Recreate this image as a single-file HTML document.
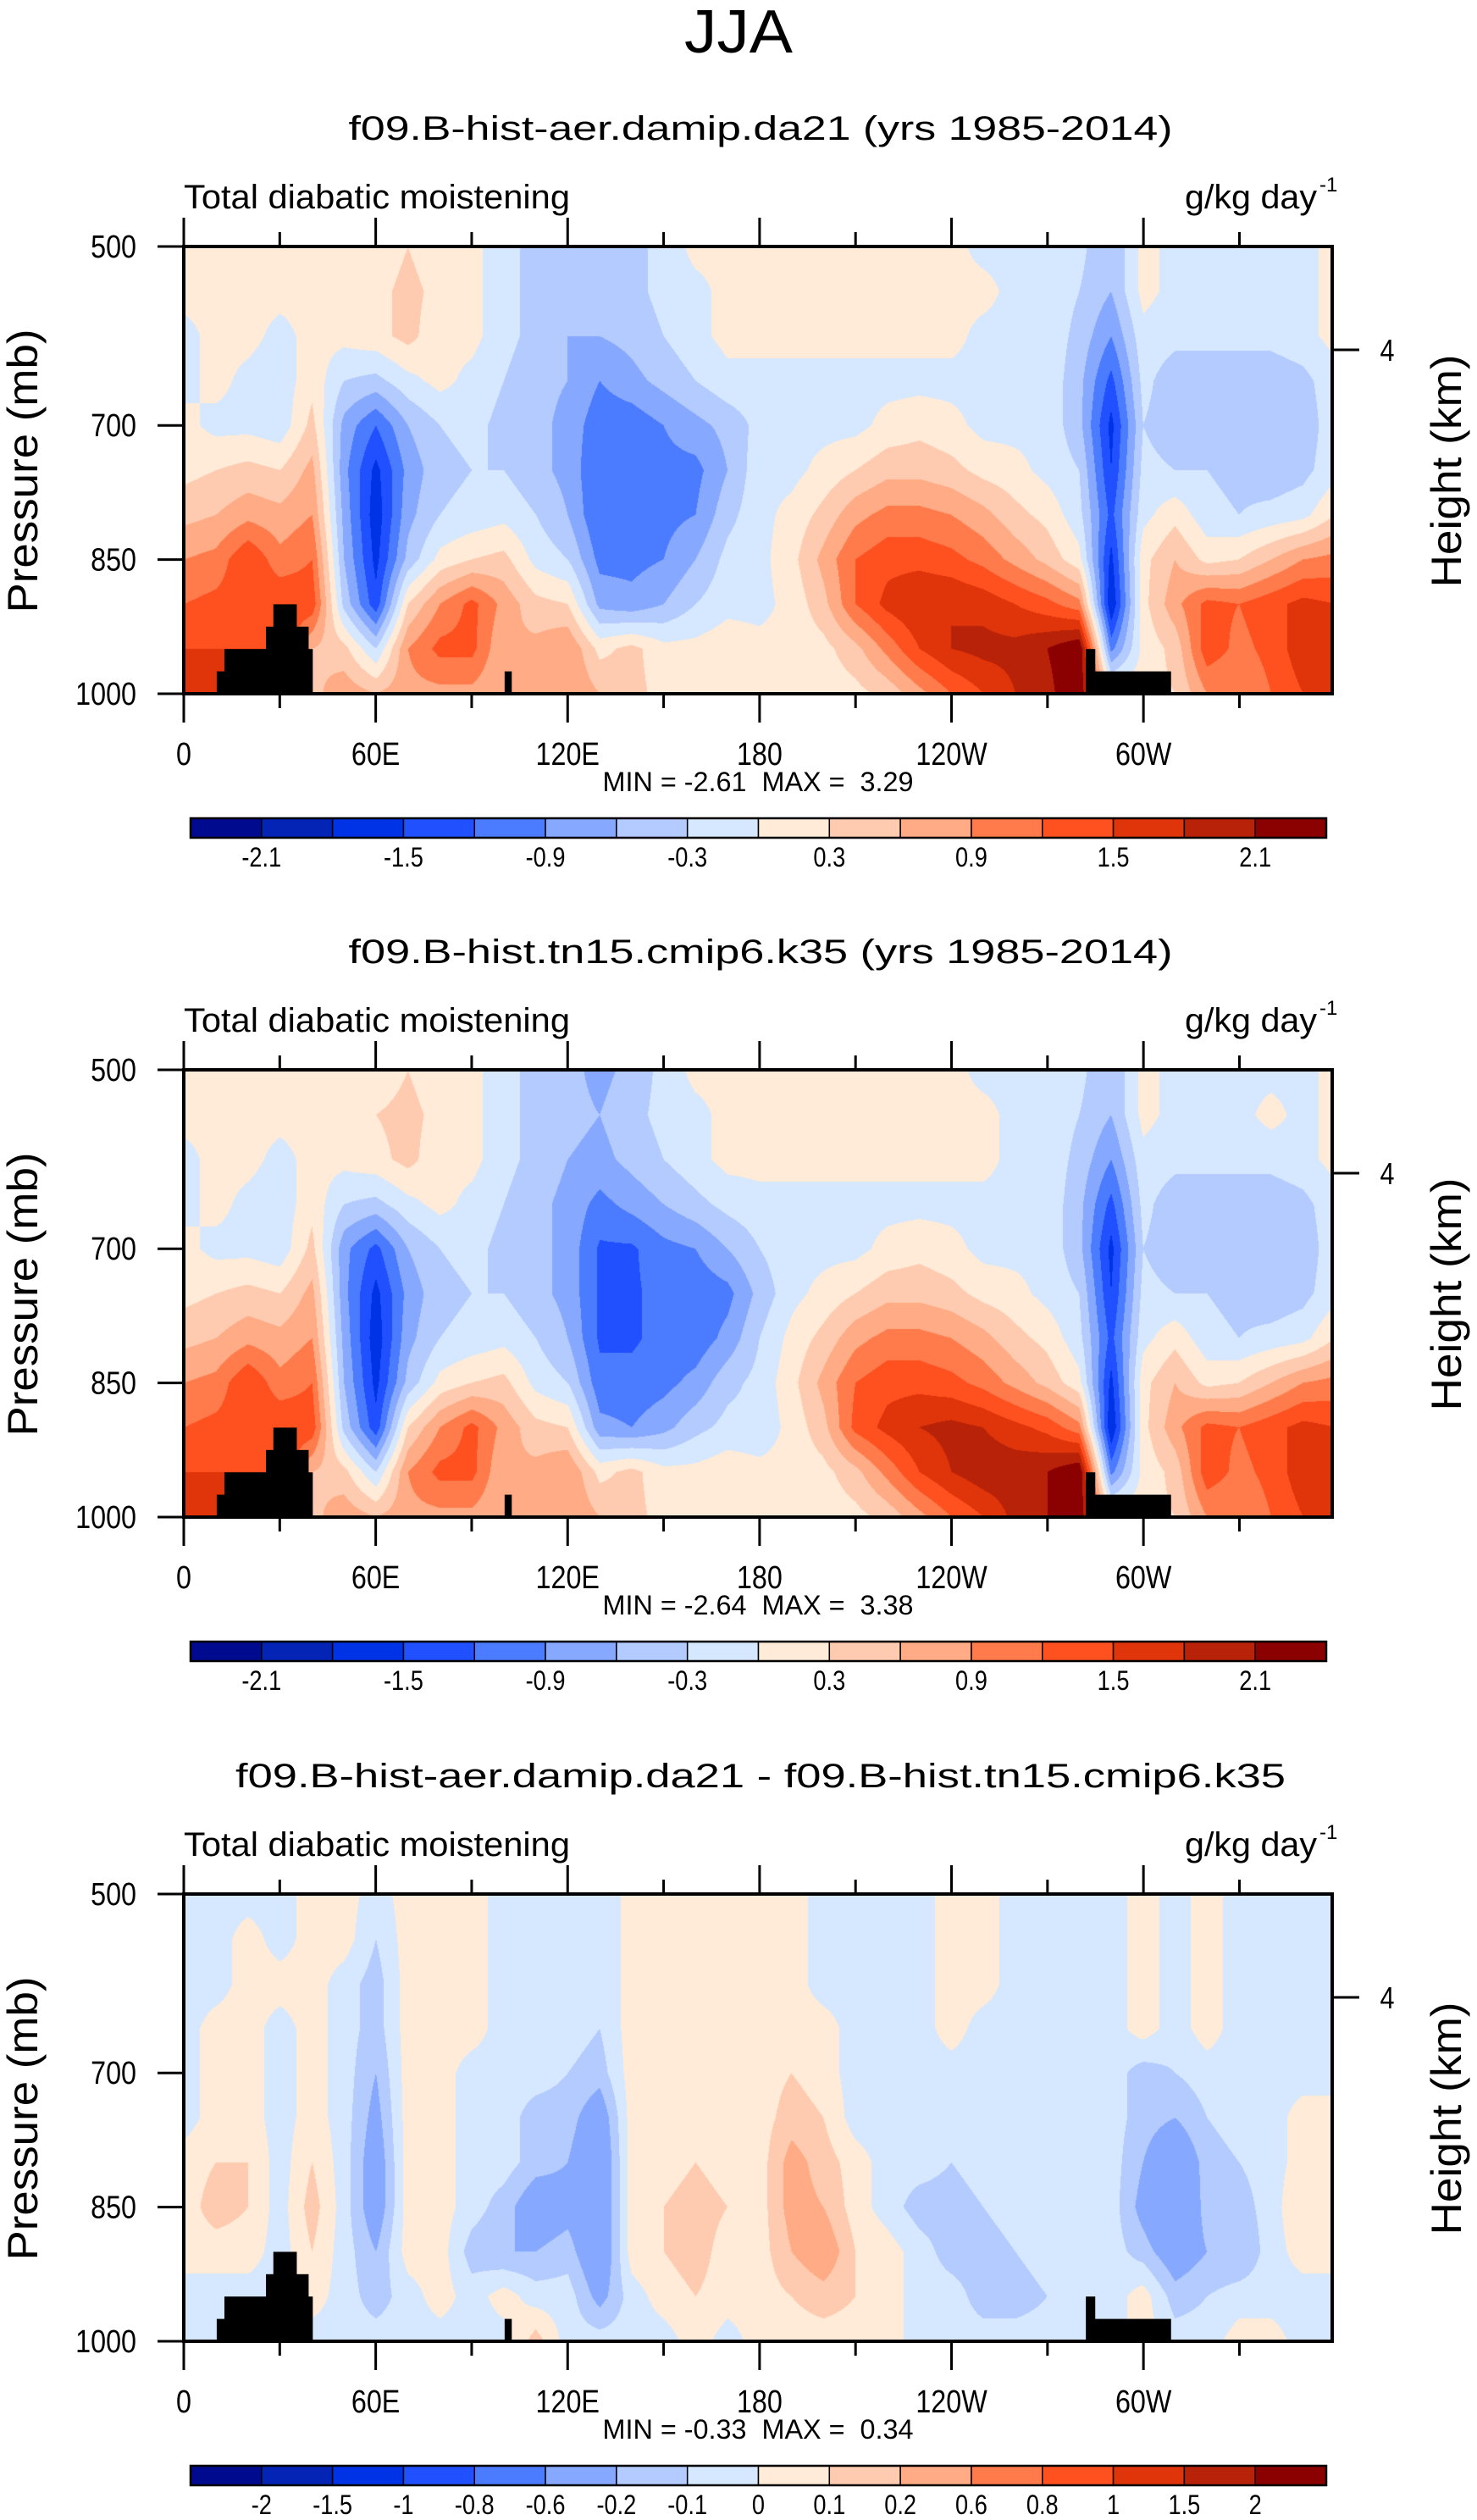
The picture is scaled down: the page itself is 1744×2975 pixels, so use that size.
<!DOCTYPE html>
<html><head><meta charset="utf-8">
<style>
html,body{margin:0;padding:0;background:#fff;}
#root{position:relative;width:1744px;height:2975px;overflow:hidden;background:#fff;}
canvas{position:absolute;}
svg{position:absolute;left:0;top:0;}
text{font-family:"Liberation Sans",sans-serif;fill:#000;}
</style></head>
<body>
<div id="root">
<canvas id="c0" width="1356" height="528" style="left:217px;top:291px"></canvas>
<canvas id="c1" width="1356" height="528" style="left:217px;top:1263px"></canvas>
<canvas id="c2" width="1356" height="528" style="left:217px;top:2236px"></canvas>
<svg id="ov" width="1744" height="2975"></svg>
</div>
<script>
// ---------- data ----------
const lons = [0,10,20,30,40,50,60,70,80,90,100,110,120,130,140,150,160,170,180,190,200,210,220,230,240,250,260,270,280,290,300,310,320,330,340,350,360];
const levels = [500,550,600,650,700,750,800,850,900,950,1000];
const xTickLabels = ["0","60E","120E","180","120W","60W"];
const xTickLons = [0,60,120,180,240,300];
const yTickLabels = ["500","700","850","1000"];
const yTickValues = [500,700,850,1000];
const titles = ["f09.B-hist-aer.damip.da21 (yrs 1985-2014)","f09.B-hist.tn15.cmip6.k35 (yrs 1985-2014)","f09.B-hist-aer.damip.da21 - f09.B-hist.tn15.cmip6.k35"];
const minMax = ["MIN = -2.61\u00a0\u00a0MAX =\u00a0\u00a03.29","MIN = -2.64\u00a0\u00a0MAX =\u00a0\u00a03.38","MIN = -0.33\u00a0\u00a0MAX =\u00a0\u00a00.34"];
const boundsAbs = [-2.1,-1.8,-1.5,-1.2,-0.9,-0.6,-0.3,0,0.3,0.6,0.9,1.2,1.5,1.8,2.1];
const boundsAbsLabels = ["-2.1","","-1.5","","-0.9","","-0.3","","0.3","","0.9","","1.5","","2.1"];
const boundsDiff = [-2,-1.5,-1,-0.8,-0.6,-0.2,-0.1,0,0.1,0.2,0.6,0.8,1,1.5,2];
const boundsDiffLabels = ["-2","-1.5","-1","-0.8","-0.6","-0.2","-0.1","0","0.1","0.2","0.6","0.8","1","1.5","2"];
const palette = ["#000a8f","#0324b5","#0033e6","#2050ff","#4b7bff","#86a8ff","#b4cbff","#d6e8ff","#ffebd8","#ffcbb0","#ffab85","#ff7b4b","#ff5020","#e0340a","#b82208","#8b0000"];
// topography blocks: [lon start, lon end, pressure top]
const topoLon0 = [10.3,12.7,25.7,28,35.2,38.9,100.3,282,284.8];
const topoLon1 = [12.7,25.7,28,35.2,38.9,40.2,102.4,284.8,308.5];
const topoPtop = [975,950,925,900,925,950,975,950,975];

const field1 = [
[0.1,0.1,0.1,0.1,0.1,0.1,0.1,0.3,0.1,0.1,-0.2,-0.4,-0.5,-0.6,-0.4,-0.2,0.1,0.1,0.1,0.1,0.1,0.1,0.1,0.1,0.1,-0.1,-0.1,-0.1,-0.2,-0.6,0.1,-0.1,-0.1,-0.1,-0.1,-0.1,0.1],
[0.1,0.1,0.1,0.1,0.1,0.1,0.2,0.4,0.2,0.1,-0.2,-0.4,-0.5,-0.5,-0.4,-0.2,-0.1,0.1,0.1,0.1,0.1,0.1,0.1,0.1,0.1,0.1,-0.1,-0.1,-0.3,-0.6,0.1,-0.1,-0.1,-0.1,-0.1,-0.1,0.1],
[-0.1,0.1,0.1,-0.1,0.1,0.1,0.2,0.4,0.1,0.1,-0.2,-0.4,-0.6,-0.6,-0.5,-0.3,-0.1,0.1,0.1,0.1,0.1,0.1,0.1,0.1,0.1,-0.1,-0.1,-0.1,-0.4,-0.9,-0.1,-0.2,-0.2,-0.2,-0.2,-0.1,0.1],
[-0.1,0.1,-0.1,-0.2,0.2,-0.3,-0.4,-0.1,0.1,-0.1,-0.3,-0.5,-0.6,-0.9,-0.7,-0.5,-0.3,-0.1,-0.1,-0.1,-0.1,-0.1,-0.1,-0.1,-0.1,-0.1,-0.1,-0.1,-0.5,-1.3,-0.2,-0.5,-0.5,-0.5,-0.5,-0.4,-0.1],
[0.1,-0.1,-0.1,-0.2,0.4,-0.7,-1.2,-0.6,-0.3,-0.2,-0.4,-0.5,-0.7,-1.1,-1.1,-0.9,-0.7,-0.5,-0.2,-0.1,-0.1,-0.1,0.1,0.2,0.1,-0.1,-0.1,-0.1,-0.5,-1.6,-0.3,-0.5,-0.5,-0.5,-0.5,-0.5,-0.1],
[0.2,0.3,0.4,0.3,0.7,-0.8,-1.6,-0.8,-0.4,-0.3,-0.3,-0.5,-0.7,-1.2,-1.1,-1.0,-1.0,-0.6,-0.1,-0.1,0.1,0.3,0.5,0.5,0.4,0.2,0.1,-0.1,-0.3,-1.5,-0.2,-0.3,-0.3,-0.4,-0.5,-0.4,-0.1],
[0.5,0.6,0.8,0.7,0.9,-0.7,-1.7,-0.7,-0.3,-0.2,-0.1,-0.3,-0.6,-1.2,-1.1,-1.0,-0.9,-0.4,-0.1,0.1,0.4,0.8,1.0,1.0,0.9,0.7,0.4,0.2,-0.2,-1.3,-0.1,0.2,-0.2,-0.3,-0.2,-0.1,0.3],
[0.9,1.0,1.5,1.0,1.2,-0.6,-1.6,-0.5,0.1,0.3,0.4,-0.1,-0.3,-1.0,-1.0,-0.9,-0.6,-0.2,-0.1,0.2,0.7,1.2,1.4,1.4,1.3,1.1,0.8,0.5,0.1,-1.6,0.2,0.6,0.2,0.3,0.6,0.9,1.0],
[1.2,1.3,1.4,1.5,1.4,-0.4,-1.4,0.3,0.9,1.3,0.8,0.4,0.3,-0.7,-0.8,-0.6,-0.3,-0.1,-0.1,0.1,0.5,1.2,1.6,1.8,1.8,1.7,1.5,1.3,1.0,-1.8,0.2,0.8,1.3,1.2,1.4,1.6,1.5],
[1.5,1.5,1.5,1.5,0.6,0.4,-0.3,0.9,1.3,1.3,0.6,0.7,0.9,0.2,0.4,0.1,0.1,0.2,0.1,0.1,0.2,0.5,1.0,1.5,1.8,1.9,1.9,2.1,2.4,-1.0,0.1,0.4,1.4,1.1,1.3,1.7,1.6],
[1.6,1.6,1.6,1.6,0.5,0.8,0.6,0.8,0.8,0.8,0.6,0.8,0.9,0.6,0.4,0.2,0.2,0.2,0.1,0.1,0.1,0.2,0.4,0.8,1.2,1.5,1.8,2.0,2.4,0.3,0.2,0.3,0.9,0.9,1.2,1.5,1.6]
];
const field2 = [
[0.1,0.1,0.1,0.1,0.1,0.1,0.1,0.3,0.1,0.1,-0.2,-0.4,-0.5,-0.7,-0.5,-0.2,0.1,0.1,0.1,0.1,0.1,0.1,0.1,0.1,0.1,-0.1,-0.1,-0.1,-0.2,-0.6,0.1,-0.1,-0.1,-0.1,-0.1,-0.1,0.1],
[0.1,0.1,0.1,0.1,0.1,0.1,0.3,0.4,0.2,0.1,-0.2,-0.4,-0.5,-0.6,-0.4,-0.2,-0.1,0.1,0.1,0.1,0.1,0.1,0.1,0.1,0.1,0.1,-0.1,-0.1,-0.3,-0.6,0.1,-0.1,-0.1,-0.1,0.1,-0.1,0.1],
[-0.1,0.1,0.1,-0.1,0.1,0.1,0.2,0.4,0.1,0.1,-0.2,-0.4,-0.6,-0.7,-0.5,-0.3,-0.1,0.1,0.1,0.1,0.1,0.1,0.1,0.1,0.1,0.1,-0.1,-0.1,-0.4,-0.9,-0.1,-0.2,-0.2,-0.2,-0.2,-0.1,0.1],
[-0.1,0.1,-0.1,-0.2,0.2,-0.3,-0.4,-0.1,0.1,-0.1,-0.3,-0.5,-0.7,-1.0,-0.8,-0.6,-0.4,-0.2,-0.1,-0.1,-0.1,-0.1,-0.1,-0.1,-0.1,-0.1,-0.1,-0.1,-0.5,-1.3,-0.2,-0.5,-0.5,-0.5,-0.5,-0.4,-0.1],
[0.1,-0.1,-0.1,-0.2,0.4,-0.8,-1.3,-0.6,-0.3,-0.2,-0.4,-0.5,-0.7,-1.25,-1.25,-1.0,-0.9,-0.6,-0.3,-0.1,-0.1,-0.1,0.1,0.2,0.1,-0.1,-0.1,-0.1,-0.5,-1.6,-0.3,-0.5,-0.5,-0.5,-0.5,-0.5,-0.1],
[0.2,0.3,0.4,0.3,0.7,-0.8,-1.6,-0.8,-0.4,-0.3,-0.3,-0.5,-0.7,-1.25,-1.25,-1.1,-1.1,-1.0,-0.5,-0.1,0.1,0.3,0.5,0.5,0.4,0.2,0.1,-0.1,-0.3,-1.5,-0.2,-0.3,-0.3,-0.4,-0.5,-0.4,-0.1],
[0.5,0.6,0.8,0.7,0.9,-0.7,-1.7,-0.7,-0.3,-0.2,-0.1,-0.3,-0.6,-1.25,-1.25,-1.1,-1.1,-0.8,-0.3,0.1,0.4,0.8,1.0,1.0,0.9,0.7,0.4,0.2,-0.2,-1.3,-0.1,0.2,-0.2,-0.3,-0.2,-0.1,0.3],
[0.9,1.0,1.5,1.0,1.2,-0.6,-1.6,-0.5,0.1,0.3,0.4,-0.1,-0.3,-1.1,-1.1,-1.0,-0.8,-0.4,-0.2,0.2,0.7,1.2,1.4,1.4,1.3,1.1,0.8,0.5,0.1,-1.6,0.2,0.6,0.2,0.3,0.6,0.9,1.0],
[1.2,1.3,1.4,1.5,1.4,-0.4,-1.4,0.3,0.9,1.3,0.8,0.4,0.3,-0.8,-0.9,-0.7,-0.4,-0.2,-0.2,0.1,0.5,1.3,1.6,1.8,1.9,1.8,1.6,1.4,1.0,-1.8,0.2,0.8,1.3,1.2,1.4,1.6,1.5],
[1.5,1.5,1.5,1.5,0.6,0.4,-0.3,0.9,1.3,1.3,0.6,0.7,0.9,0.2,0.4,0.1,0.1,0.2,0.1,0.1,0.2,0.5,1.0,1.5,1.8,2.0,2.0,2.1,2.4,-1.0,0.1,0.4,1.4,1.1,1.3,1.7,1.6],
[1.6,1.6,1.6,1.6,0.5,0.8,0.6,0.8,0.8,0.8,0.6,0.8,0.9,0.6,0.4,0.2,0.2,0.2,0.1,0.1,0.1,0.2,0.4,0.8,1.2,1.5,1.9,2.1,2.4,0.3,0.2,0.3,0.9,0.9,1.2,1.5,1.6]
];
const field3 = [
[-0.05,-0.05,-0.05,-0.05,0.05,0.05,-0.05,0.05,0.05,0.05,-0.05,-0.05,-0.05,-0.1,0.05,0.05,0.05,0.05,0.05,0.05,-0.05,-0.05,-0.05,-0.05,0.05,0.05,-0.05,-0.05,-0.05,-0.05,0.05,-0.05,0.05,-0.05,-0.05,-0.05,-0.05],
[-0.05,-0.05,0.05,-0.05,0.05,0.05,-0.1,0.05,0.05,0.05,-0.05,-0.05,-0.05,-0.1,0.05,0.05,0.05,0.05,0.05,0.05,-0.05,-0.05,-0.05,-0.05,0.05,0.05,-0.05,-0.05,-0.05,-0.05,0.05,-0.05,0.05,-0.05,-0.05,-0.05,-0.05],
[-0.05,-0.05,0.05,0.05,0.05,-0.05,-0.15,0.05,0.05,0.05,-0.05,-0.05,-0.05,-0.1,0.05,0.05,0.05,0.05,0.05,0.05,-0.05,-0.05,-0.05,-0.05,0.05,0.05,-0.05,-0.05,-0.05,-0.05,0.05,-0.05,0.05,-0.05,-0.05,-0.05,-0.05],
[-0.05,0.05,0.05,-0.05,0.05,-0.05,-0.15,0.05,0.05,0.05,-0.05,-0.05,-0.05,-0.1,0.05,0.05,0.05,0.05,0.05,0.05,0.05,-0.05,-0.05,-0.05,0.05,-0.05,-0.05,-0.05,-0.05,-0.05,0.05,-0.05,0.05,-0.05,-0.05,-0.05,-0.05],
[-0.05,0.05,0.05,-0.05,0.05,-0.05,-0.2,0.05,0.05,-0.05,-0.05,-0.05,-0.1,-0.15,0.05,0.05,0.05,0.05,0.05,0.1,0.05,-0.05,-0.05,-0.05,-0.05,-0.05,-0.05,-0.05,-0.05,-0.05,-0.15,-0.1,-0.05,-0.05,-0.05,-0.05,-0.05],
[-0.05,0.05,0.05,-0.05,0.05,-0.05,-0.25,0.05,0.05,-0.05,-0.05,-0.15,-0.15,-0.3,0.05,0.05,0.05,0.05,0.05,0.15,0.1,-0.05,-0.05,-0.05,-0.05,-0.05,-0.05,-0.05,-0.05,-0.05,-0.15,-0.2,-0.1,-0.05,-0.05,0.05,0.05],
[0.05,0.1,0.1,-0.05,0.1,-0.05,-0.3,0.05,0.05,-0.05,-0.05,-0.15,-0.2,-0.35,0.05,0.05,0.1,0.05,0.05,0.25,0.15,0.05,-0.05,-0.05,-0.1,-0.05,-0.05,-0.05,-0.05,-0.05,-0.2,-0.35,-0.15,-0.1,-0.05,0.05,0.05],
[0.05,0.15,0.1,-0.05,0.15,-0.05,-0.3,0.05,0.05,-0.05,-0.15,-0.3,-0.25,-0.35,0.05,0.1,0.15,0.1,0.05,0.25,0.2,0.05,-0.05,-0.15,-0.15,-0.1,-0.05,-0.05,-0.05,-0.05,-0.25,-0.4,-0.15,-0.15,-0.05,0.1,0.05],
[0.05,0.05,0.05,-0.05,0.1,-0.05,-0.2,0.05,0.05,-0.15,-0.2,-0.2,-0.15,-0.35,0.05,0.1,0.15,0.05,0.05,0.2,0.3,0.1,0.05,-0.05,-0.15,-0.15,-0.1,-0.05,-0.05,-0.05,-0.15,-0.3,-0.2,-0.2,-0.05,0.05,0.05],
[-0.05,-0.05,-0.05,-0.05,0.05,-0.05,-0.15,-0.05,0.05,-0.05,0.05,-0.05,-0.05,-0.25,-0.05,0.05,0.1,0.05,0.05,0.1,0.15,0.1,0.05,-0.05,-0.05,-0.15,-0.15,-0.1,-0.05,-0.05,0.05,-0.15,-0.1,-0.05,-0.05,-0.05,-0.05],
[-0.05,-0.05,-0.05,-0.05,-0.05,-0.05,-0.05,-0.05,-0.05,-0.05,-0.05,0.15,-0.05,-0.05,-0.05,-0.05,0.05,-0.05,0.05,0.05,0.05,0.05,0.05,-0.05,-0.05,-0.05,-0.05,-0.05,-0.05,-0.05,0.05,-0.05,-0.05,0.05,0.05,-0.05,-0.05]
];

// ---------- geometry ----------
const PX0 = 217, PX1 = 1573, PH = 528, LONMAX = 359;
const panelTops = [291, 1263, 2236];
const fields = [field1, field2, field3];
const bounds = [boundsAbs, boundsAbs, boundsDiff];
const bLabels = [boundsAbsLabels, boundsAbsLabels, boundsDiffLabels];
function xOf(lon){ return PX0 + lon/LONMAX*(PX1-PX0); }
function yOf(p, top){ return top + (p-500)/500*PH; }
function hex(c){ return [parseInt(c.slice(1,3),16),parseInt(c.slice(3,5),16),parseInt(c.slice(5,7),16)]; }
const rgb = palette.map(hex);

function sample(f, lon, p){
  let fi = lon/10, fj = (p-500)/50;
  let i = Math.min(Math.floor(fi), lons.length-2), j = Math.min(Math.floor(fj), levels.length-2);
  let a = fi-i, b = fj-j;
  return (1-a)*(1-b)*f[j][i] + a*(1-b)*f[j][i+1] + (1-a)*b*f[j+1][i] + a*b*f[j+1][i+1];
}
function drawField(k){
  const cv = document.getElementById('c'+k), ctx = cv.getContext('2d');
  const W = cv.width, H = cv.height, img = ctx.createImageData(W,H), d = img.data, bd = bounds[k], f = fields[k];
  for (let y=0;y<H;y++){
    const p = 500 + y/(H-1)*500;
    for (let x=0;x<W;x++){
      const lon = x/(W-1)*LONMAX;
      const v = sample(f, lon, p) + 1e-6;
      let c = 0; while (c<bd.length && v>=bd[c]) c++;
      const col = rgb[c], o = (y*W+x)*4;
      d[o]=col[0]; d[o+1]=col[1]; d[o+2]=col[2]; d[o+3]=255;
    }
  }
  ctx.putImageData(img,0,0);
}
[0,1,2].forEach(drawField);

// ---------- overlay ----------
const NS = "http://www.w3.org/2000/svg", svg = document.getElementById('ov');
function el(tag, attrs, parent, txt){
  const e = document.createElementNS(NS, tag);
  for (const k in attrs) e.setAttribute(k, attrs[k]);
  if (txt !== undefined) e.textContent = txt;
  (parent||svg).appendChild(e); return e;
}
let t = el('text',{x:872,y:62,'text-anchor':'middle','font-size':72,textLength:128,lengthAdjust:'spacingAndGlyphs'},svg,'JJA');



for (let k=0;k<3;k++){
  const top = panelTops[k], off = top-291, bot = top+PH;
  const g = el('g',{});
  
  
  t = el('text',{x:898,y:165+off,'text-anchor':'middle','font-size':40,textLength:(k==2?1240:973),lengthAdjust:'spacingAndGlyphs'},g,titles[k]);
  
  
  t = el('text',{x:217,y:246+off,'font-size':40,textLength:456,lengthAdjust:'spacingAndGlyphs'},g,'Total diabatic moistening');
  
  
  t = el('text',{x:1399,y:246+off,'font-size':40,textLength:156,lengthAdjust:'spacingAndGlyphs'},g,'g/kg day');
  
  
  t = el('text',{x:1558,y:226+off,'font-size':24},g,'-1');
  
  
  for (let i=0;i<topoLon0.length;i++){
    const r = el('rect',{x:xOf(topoLon0[i]),y:yOf(topoPtop[i],top),width:xOf(topoLon1[i])-xOf(topoLon0[i])+0.5,height:bot-yOf(topoPtop[i],top),fill:'#000'},g);
    
    
  }
  const fr = el('rect',{x:PX0,y:top,width:PX1-PX0,height:PH,fill:'none',stroke:'#000','stroke-width':4},g);
  
  
  for (let lon=0; lon<=330; lon+=30){
    const major = lon%60===0, x = xOf(lon), L = major?34:17;
    el('line',{x1:x,y1:top,x2:x,y2:top-L,stroke:'#000','stroke-width':3},g);
    el('line',{x1:x,y1:bot,x2:x,y2:bot+L,stroke:'#000','stroke-width':3},g);
  }
  for (let i=0;i<xTickLons.length;i++){
    t = el('text',{x:xOf(xTickLons[i]),y:903+off,'text-anchor':'middle','font-size':38,transform:`translate(${xOf(xTickLons[i])},0) scale(0.85,1) translate(${-xOf(xTickLons[i])},0)`},g,xTickLabels[i]);
    
    
  }
  for (let i=0;i<yTickValues.length;i++){
    const y = yOf(yTickValues[i],top);
    el('line',{x1:PX0,y1:y,x2:PX0-31,y2:y,stroke:'#000','stroke-width':3},g);
    t = el('text',{x:161,y:y+13,'text-anchor':'end','font-size':38,transform:`translate(161,0) scale(0.85,1) translate(-161,0)`},g,yTickLabels[i]);
    
    
  }
  el('line',{x1:PX1,y1:413+off,x2:PX1+32,y2:413+off,stroke:'#000','stroke-width':3},g);
  t = el('text',{x:1638,y:426+off,'text-anchor':'middle','font-size':36,transform:`translate(1638,0) scale(0.85,1) translate(-1638,0)`},g,'4');
  
  
  t = el('text',{x:0,y:0,'text-anchor':'middle','font-size':50,transform:`translate(44,${556+off}) rotate(-90)`,textLength:335,lengthAdjust:'spacingAndGlyphs'},g,'Pressure (mb)');
  
  
  t = el('text',{x:0,y:0,'text-anchor':'middle','font-size':50,transform:`translate(1725,${556+off}) rotate(-90)`,textLength:275,lengthAdjust:'spacingAndGlyphs'},g,'Height (km)');
  
  
  t = el('text',{x:895,y:934+off,'text-anchor':'middle','font-size':32,textLength:367,lengthAdjust:'spacingAndGlyphs'},g,minMax[k]);
  
  
  const cbx0 = 225, cbx1 = 1566, cby = 966+off, cbh = 23, bw = (cbx1-cbx0)/palette.length;
  for (let i=0;i<palette.length;i++){
    const r = el('rect',{x:cbx0+i*bw,y:cby,width:bw,height:cbh,fill:palette[i],stroke:'#000','stroke-width':1.5},g);
    
    
  }
  el('rect',{x:cbx0,y:cby,width:cbx1-cbx0,height:cbh,fill:'none',stroke:'#000','stroke-width':2.5},g);
  for (let i=0;i<bLabels[k].length;i++){
    if (!bLabels[k][i]) continue;
    const x = cbx0+(i+1)*bw;
    t = el('text',{x:x,y:1023+off,'text-anchor':'middle','font-size':32,transform:`translate(${x},0) scale(0.85,1) translate(${-x},0)`},g,bLabels[k][i]);
    
    
  }
}
</script>
</body></html>
